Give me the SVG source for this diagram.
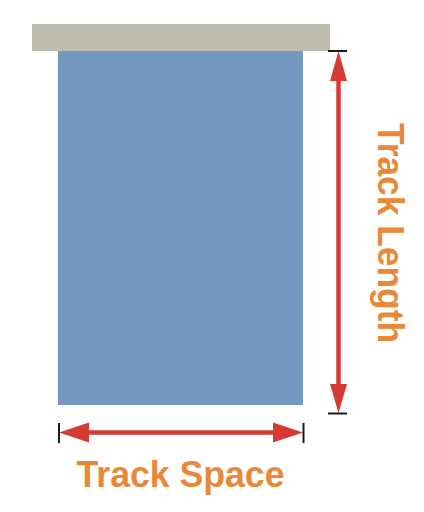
<svg xmlns="http://www.w3.org/2000/svg" width="424" height="512" viewBox="0 0 424 512">
<style>
.shaft{stroke:#D63A35;stroke-width:4.5;fill:none}
.head{fill:#D63A35}
.tick{stroke:#1a1a1a;stroke-width:2;fill:none}
.label{font-family:"Liberation Sans",Arial,sans-serif;font-weight:bold;font-size:36.5px;fill:#E8893A}
</style>
<rect width="424" height="512" fill="#ffffff"/>
<g id="track-top">
<rect x="32" y="24" width="298" height="27" fill="#BFBCB0"/>
</g>
<g id="curtain">
<rect x="58" y="51" width="245" height="354" fill="#7399C0"/>
</g>
<g id="connectors">
<g id="length-dimension">
<line class="tick" x1="328" y1="51" x2="347" y2="51"/>
<line class="tick" x1="328" y1="413.5" x2="347" y2="413.5"/>
<line class="shaft" x1="338.5" y1="78" x2="338.5" y2="387"/>
<path class="head" d="M338.5 51 L347 81 L330 81 Z"/>
<path class="head" d="M338.5 413 L347 384 L330 384 Z"/>
</g>
<g id="space-dimension">
<line class="tick" x1="59" y1="423" x2="59" y2="443"/>
<line class="tick" x1="303.5" y1="423" x2="303.5" y2="443"/>
<line class="shaft" x1="86" y1="432.5" x2="276" y2="432.5"/>
<path class="head" d="M59 432.5 L89 422.5 L89 442.5 Z"/>
<path class="head" d="M303 432.5 L273 422.5 L273 442.5 Z"/>
</g>
</g>
<g id="label-length">
<text class="label" transform="translate(377.5,123) rotate(90)" textLength="220" lengthAdjust="spacingAndGlyphs">Track Length</text>
</g>
<g id="label-space">
<text class="label" x="76.5" y="487" textLength="208" lengthAdjust="spacingAndGlyphs">Track Space</text>
</g>
</svg>
